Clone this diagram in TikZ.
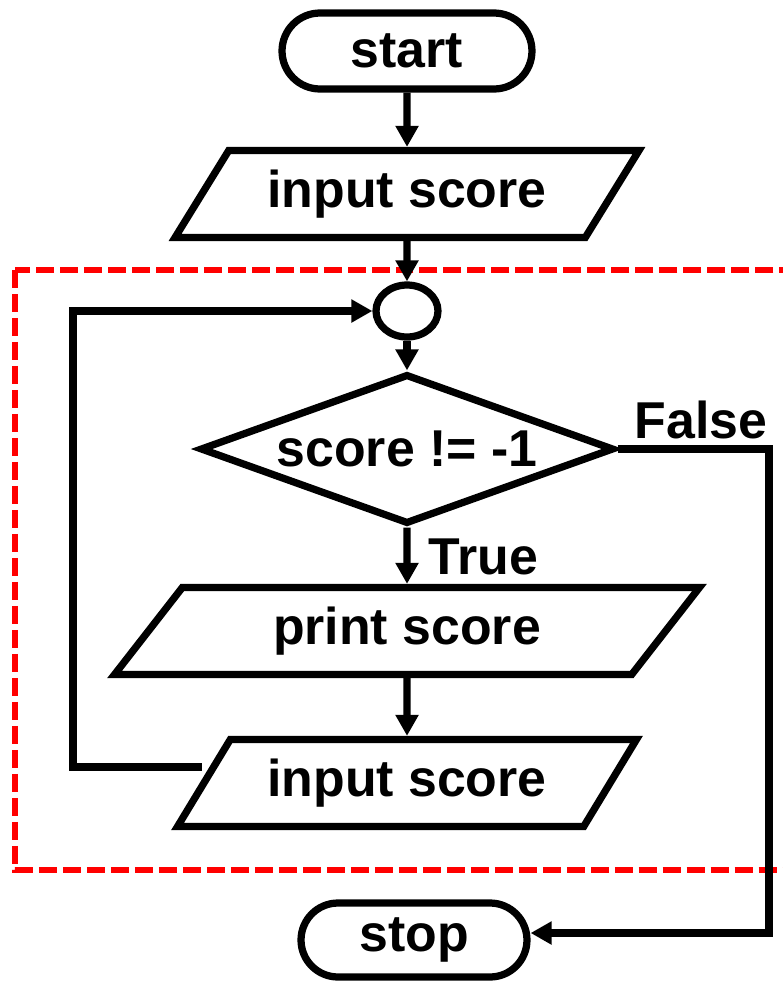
\documentclass[tikz,border=0pt]{standalone}
\usepackage{fontspec}
\setmainfont{Liberation Sans}
\usetikzlibrary{shapes.geometric,shapes.misc,arrows.meta}
\begin{document}
\begin{tikzpicture}[x=0.02cm,y=-0.02cm,line width=0.145cm,
  every node/.style={font=\fontsize{29.5}{35}\selectfont\bfseries,inner sep=0pt},
  arr/.style={-{Triangle[length=0.42cm,width=0.44cm]}},
  term/.style={draw,rounded rectangle,minimum height=1.52cm},
  io/.style={draw,trapezium,trapezium stretches body,minimum height=1.74cm},
  redbox/.style={draw=red,line width=0.11cm,dash pattern=on 0.36cm off 0.12cm}]
\useasboundingbox (0,0) rectangle (782,981);
\draw[redbox] (15,270) rectangle (790,870);
\node[term,minimum width=5cm] (start) at (407,51){start};
\node[io,trapezium left angle=42,trapezium right angle=138,minimum width=9.28cm] (in1) at (407,194){input score};
\node[draw,ellipse,minimum width=1.24cm,minimum height=1.04cm] (ell) at (407,311){};
\node[draw,diamond,aspect=2.76,minimum width=8.28cm,minimum height=3cm] (dec) at (407,449){score != -1};
\node[io,trapezium left angle=35.5,trapezium right angle=144.5,minimum width=11.7cm] (pr) at (407,631){print score};
\node[io,trapezium left angle=42.5,trapezium right angle=137.5,minimum width=9.18cm] (in2) at (407,783){input score};
\node[term,minimum width=4.52cm,minimum height=1.48cm] (stop) at (414,940){stop};
\node[anchor=base east] (flabel) at (771,438){False};
\node[anchor=base west] (tlabel) at (425,574){True};
\coordinate (fcorner) at (769,933);
\coordinate (lstart) at ([shift={(2,-16)}]in2.west);
\coordinate (lcorner) at (73,767);
\draw[arr] (start) -- (in1);
\draw[arr] (in1) -- (ell);
\draw[arr] (ell) -- (dec);
\draw[arr] (dec) -- (pr);
\draw[arr] (pr) -- (in2);
\draw[arr] (dec.east) -| (fcorner) -- (stop.east |- fcorner);
\draw[arr] (lstart) -- (lcorner |- lstart) |- (ell.west);
\end{tikzpicture}
\end{document}
